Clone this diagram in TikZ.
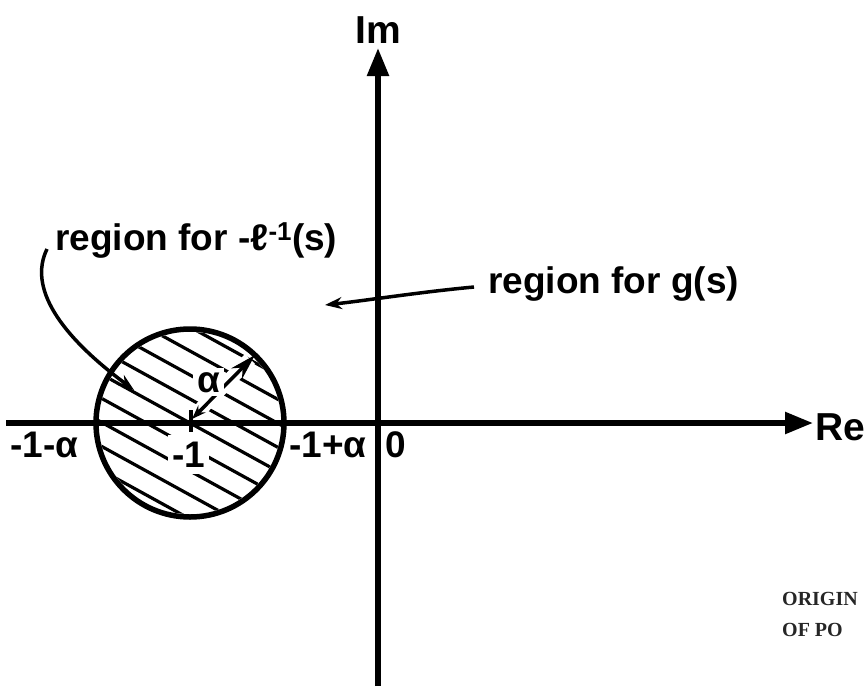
\documentclass[tikz,border=0pt]{standalone}
\usepackage{fontspec}
\setmainfont{Liberation Sans}
\newfontfamily\scanfont{Liberation Serif}
\usetikzlibrary{arrows.meta}
\begin{document}
\begin{tikzpicture}[x=1pt,y=-1pt,
  axis/.style={line width=5.5pt,-{Triangle[length=28pt,width=21pt]}},
  hatch/.style={line width=3.2pt},
  rim/.style={line width=5.5pt},
  note/.style={line width=3.5pt,-{Stealth[length=17pt,width=12pt]}},
  lbl/.style={font=\fontsize{37}{40}\selectfont\bfseries, inner sep=0pt, anchor=base west},
  axlbl/.style={font=\fontsize{39}{44}\selectfont\bfseries, inner sep=0pt},
  scan/.style={font=\fontsize{20}{22}\selectfont\scanfont\bfseries, inner sep=0pt, anchor=base west, text=black!85}]
\useasboundingbox (0,0) rectangle (865,686);

% named points
\coordinate (ctr) at (190,423);
\coordinate (xl) at (6,423);
\coordinate (xr) at (813,423);
\coordinate (yb) at (378,686);
\coordinate (yt) at (378,48);

% hatching inside the circle
\begin{scope}
  \clip (ctr) circle (91);
  \foreach \k in {-4,...,4}
    \draw[hatch] (60,{423-71.5+\k*24}) -- ++(260,143);
\end{scope}

% gap for radius arrow
\draw[white,line width=14pt] (196,414) -- (250,359);

% axes
\draw[axis] (xl) -- (xr);
\draw[axis] (yb) -- (yt);

% circle
\node[draw,circle,rim,minimum size=188pt,inner sep=0pt] (disk) at (ctr) {};

% tick at -1
\coordinate (tk1) at (191,410);
\coordinate (tk2) at (191,432);
\draw[line width=4.5pt] (tk1) -- (tk2);

% radius arrow
\coordinate (rs) at (192,419);
\coordinate (rt) at (255,355);
\draw[line width=3.5pt,{Stealth[length=14pt,width=10pt]}-{Stealth[length=26pt,width=15pt]}] (rs) -- (rt);

% labels
\node[axlbl,anchor=base] (im) at (378,43) {Im};
\node[axlbl,anchor=base west] (re) at (815,440) {Re};

\node[lbl] (lm1a) at (10,457) {-1-α};
\node[lbl,fill=white,inner xsep=4pt,inner ysep=7pt] (lm1) at (168,467) {-1};
\node[lbl] (lp1a) at (289,457) {-1+α};
\node[lbl] (zero) at (385,457) {0};
\node[lbl,fill=white,inner sep=4pt] (alab) at (193,392) {α};

\node[lbl] (lg) at (55,250) {region for -ℓ\textsuperscript{-1}(s)};
\node[lbl] (rg) at (488,293) {region for g(s)};

% annotation arrows
\coordinate (ltail) at (47,249);
\coordinate (ltip) at (134,390);
\draw[note] (ltail) .. controls (28,288) and (60,335) .. (ltip);

\coordinate (gtail) at (474,287);
\coordinate (gtip) at (325,305);
\draw[note] (gtail) .. controls (420,292) and (370,300) .. (gtip);

% scan residue
\node[scan] (orig1) at (782,605) {ORIGIN};
\node[scan] (orig2) at (782,636) {OF PO};
\end{tikzpicture}
\end{document}
